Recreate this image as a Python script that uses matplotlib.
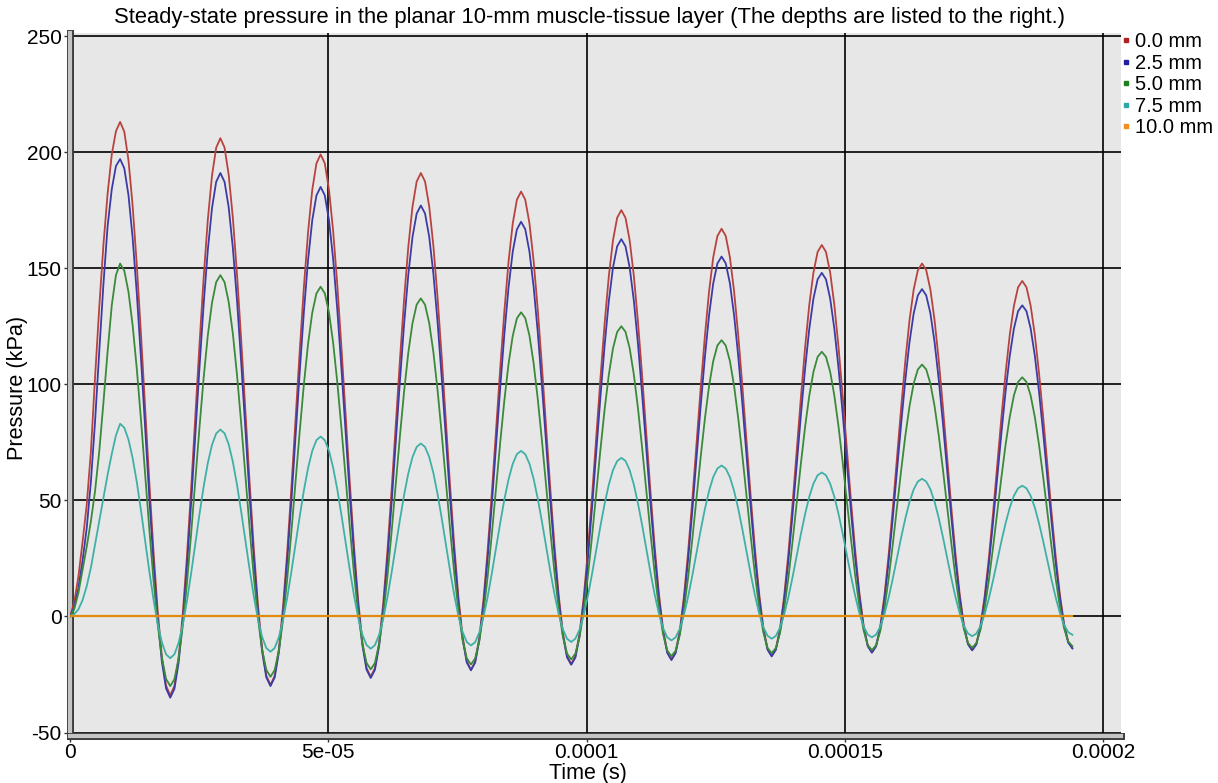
import numpy as np
import matplotlib
matplotlib.use("Agg")
import matplotlib.pyplot as plt
import matplotlib.patheffects as pe
from matplotlib.lines import Line2D
from matplotlib.ticker import MultipleLocator

plt.rcParams["font.family"] = ["Liberation Sans", "DejaVu Sans"]
plt.rcParams["axes.unicode_minus"] = False

# --- data --------------------------------------------------------------
depth_labels = ["0.0 mm", "2.5 mm", "5.0 mm", "7.5 mm", "10.0 mm"]
x_tick_values = [0, 5e-05, 0.0001, 0.00015, 0.0002]
x_tick_labels = ["0", "5e-05", "0.0001", "0.00015", "0.0002"]
y_tick_values = [-50, 0, 50, 100, 150, 200, 250]

sample_step_us = 0.8083   # sample spacing of the simulation output (microseconds)

# pressure in kPa at each sample, depth 0.0 mm
p_0mm = [
    0, 6, 17, 32, 48, 71, 103, 133, 160, 182, 199, 209, 213,
    208.8, 196.5, 176.8, 151.2, 121.5, 89.5, 57.5, 27.8, 2.2, -17.5, -29.8, -34,
    -29.9, -17.9, 1.1, 26, 54.9, 86, 117.1, 146, 170.9, 189.9, 201.9, 206,
    202.0, 190.2, 171.5, 147.1, 118.7, 88.2, 57.8, 29.4, 5.0, -13.7, -25.5, -29.5,
    -25.6, -14.2, 4.0, 27.6, 55.2, 84.8, 114.3, 141.9, 165.5, 183.7, 195.1, 199,
    195.2, 183.9, 166.1, 142.8, 115.6, 86.5, 57.4, 30.2, 6.9, -10.9, -22.2, -26,
    -22.3, -11.5, 5.8, 28.2, 54.4, 82.5, 110.6, 136.8, 159.2, 176.5, 187.3, 191,
    187.4, 176.7, 159.7, 137.5, 111.7, 84, 56.3, 30.5, 8.3, -8.7, -19.4, -23,
    -19.5, -9.2, 7.2, 28.5, 53.3, 80, 106.7, 131.5, 152.8, 169.2, 179.5, 183,
    179.5, 169.4, 153.2, 132.1, 107.6, 81.2, 54.9, 30.4, 9.3, -6.9, -17.0, -20.5,
    -17.2, -7.4, 8.1, 28.4, 52.0, 77.2, 102.5, 126.1, 146.4, 161.9, 171.7, 175,
    171.7, 162.0, 146.7, 126.6, 103.3, 78.2, 53.2, 29.9, 9.8, -5.5, -15.2, -18.5,
    -15.3, -6.1, 8.7, 27.9, 50.2, 74.2, 98.3, 120.6, 139.8, 154.6, 163.8, 167,
    163.9, 154.7, 140.1, 121, 98.8, 75, 51.2, 29, 9.9, -4.7, -13.9, -17,
    -14.0, -5.1, 8.9, 27.2, 48.6, 71.5, 94.4, 115.8, 134.1, 148.1, 157.0, 160,
    157.0, 148.2, 134.3, 116.1, 95.0, 72.2, 49.5, 28.4, 10.2, -3.7, -12.5, -15.5,
    -12.6, -4.3, 9.0, 26.4, 46.6, 68.2, 89.9, 110.1, 127.5, 140.8, 149.1, 152,
    149.2, 140.8, 127.6, 110.4, 90.3, 68.8, 47.2, 27.1, 9.9, -3.3, -11.7, -14.5,
    -11.8, -3.8, 8.8, 25.2, 44.4, 65, 85.6, 104.8, 121.2, 133.8, 141.8, 144.5,
    141.8, 133.9, 121.4, 105.0, 85.9, 65.4, 45.0, 25.9, 9.5, -3.0, -10.9, -13.6,
]

# depth 2.5 mm
p_2_5mm = [
    0, 4, 12, 24, 38, 58, 84, 114, 143, 168, 184, 194, 197,
    193.0, 181.5, 163.0, 139, 111.0, 81, 51.0, 23, -1.0, -19.5, -31.0, -35,
    -31.2, -19.9, -1.9, 21.5, 48.8, 78, 107.2, 134.5, 157.9, 175.9, 187.2, 191,
    187.2, 176.2, 158.6, 135.8, 109.1, 80.5, 51.9, 25.2, 2.4, -15.2, -26.2, -30,
    -26.3, -15.6, 1.5, 23.8, 49.7, 77.5, 105.3, 131.2, 153.5, 170.6, 181.3, 185,
    181.4, 170.8, 154.0, 132.1, 106.6, 79.2, 51.9, 26.4, 4.5, -12.3, -22.9, -26.5,
    -23.0, -12.9, 3.3, 24.4, 48.9, 75.2, 101.6, 126.1, 147.2, 163.4, 173.5, 177,
    173.6, 163.6, 147.7, 127.0, 102.8, 76.9, 51.0, 26.8, 6.1, -9.8, -19.8, -23.2,
    -19.9, -10.3, 5.1, 25.1, 48.4, 73.4, 98.4, 121.7, 141.7, 157.1, 166.7, 170,
    166.8, 157.2, 142.1, 122.3, 99.3, 74.6, 49.9, 26.9, 7.1, -8.0, -17.6, -20.8,
    -17.7, -8.5, 6.0, 25.0, 47.1, 70.8, 94.6, 116.7, 135.7, 150.2, 159.4, 162.5,
    159.4, 150.3, 136.0, 117.2, 95.3, 71.8, 48.4, 26.5, 7.7, -6.6, -15.7, -18.8,
    -15.8, -7.2, 6.6, 24.6, 45.6, 68.1, 90.6, 111.5, 129.6, 143.4, 152.0, 155,
    152.1, 143.5, 129.8, 112.0, 91.2, 68.9, 46.6, 25.8, 8.0, -5.7, -14.3, -17.2,
    -14.4, -6.1, 7.0, 24.1, 44.0, 65.4, 86.8, 106.7, 123.8, 136.9, 145.2, 148,
    145.2, 137.0, 124.0, 107.1, 87.4, 66.2, 45.0, 25.3, 8.4, -4.6, -12.8, -15.6,
    -12.9, -5.1, 7.3, 23.6, 42.4, 62.7, 83.0, 101.8, 118.1, 130.5, 138.3, 141,
    138.3, 130.6, 118.2, 102.1, 83.3, 63.2, 43.1, 24.3, 8.2, -4.2, -12.0, -14.6,
    -12.1, -4.6, 7.2, 22.5, 40.5, 59.7, 78.9, 96.8, 112.2, 124.0, 131.5, 134,
    131.5, 124.1, 112.4, 97.0, 79.2, 60.1, 41.0, 23.2, 7.8, -3.9, -11.3, -13.8,
]

# depth 5.0 mm
p_5mm = [
    0, 3, 10, 20, 30, 41, 54, 71, 92, 114, 134, 147, 152,
    148.9, 139.8, 125.4, 106.5, 84.6, 61, 37.4, 15.5, -3.4, -17.8, -26.9, -30,
    -27.0, -18.1, -4.1, 14.2, 35.6, 58.5, 81.4, 102.8, 121.1, 135.1, 144.0, 147,
    144.0, 135.4, 121.7, 103.8, 82.9, 60.5, 38.1, 17.2, -0.7, -14.4, -23.0, -26,
    -23.1, -14.8, -1.4, 16, 36.3, 58, 79.7, 100, 117.4, 130.8, 139.1, 142,
    139.2, 131.0, 117.9, 100.8, 80.9, 59.6, 38.3, 18.4, 1.3, -11.8, -20.0, -22.8,
    -20.1, -12.1, 0.6, 17.2, 36.4, 57.1, 77.8, 97.0, 113.6, 126.3, 134.3, 137,
    134.3, 126.4, 113.9, 97.6, 78.6, 58.2, 37.7, 18.7, 2.4, -10.1, -18.0, -20.7,
    -18.1, -10.5, 1.5, 17.2, 35.5, 55.2, 74.8, 93.1, 108.8, 120.8, 128.4, 131,
    128.5, 121.0, 109.1, 93.6, 75.6, 56.2, 36.9, 18.9, 3.4, -8.5, -16.0, -18.5,
    -16.0, -8.9, 2.5, 17.4, 34.7, 53.2, 71.8, 89.1, 104.0, 115.4, 122.5, 125,
    122.6, 115.5, 104.2, 89.5, 72.3, 54.0, 35.6, 18.4, 3.7, -7.6, -14.7, -17.1,
    -14.8, -8.0, 2.8, 16.9, 33.3, 51.0, 68.6, 85.0, 99.1, 109.9, 116.7, 119,
    116.7, 110.0, 99.3, 85.3, 69.0, 51.6, 34.2, 17.9, 3.9, -6.8, -13.5, -15.8,
    -13.6, -7.1, 3.2, 16.6, 32.3, 49.1, 65.9, 81.6, 95.0, 105.3, 111.8, 114,
    111.8, 105.4, 95.2, 81.9, 66.4, 49.8, 33.1, 17.6, 4.3, -5.9, -12.3, -14.5,
    -12.4, -6.3, 3.5, 16.2, 31.1, 47.0, 62.9, 77.8, 90.5, 100.3, 106.4, 108.5,
    106.4, 100.3, 90.6, 78.0, 63.3, 47.5, 31.7, 17.0, 4.4, -5.3, -11.4, -13.5,
    -11.5, -5.7, 3.6, 15.6, 29.7, 44.8, 59.8, 73.9, 85.9, 95.2, 101.0, 103,
    101.0, 95.2, 86.0, 74.0, 60.1, 45.1, 30.1, 16.2, 4.2, -5.0, -10.8, -12.8,
]

# depth 7.5 mm
p_7_5mm = [
    0, 1, 3, 7, 13, 21, 31, 41, 51, 61, 70, 78, 83,
    81.3, 76.2, 68.2, 57.8, 45.6, 32.5, 19.4, 7.2, -3.2, -11.2, -16.3, -18,
    -16.3, -11.4, -3.6, 6.6, 18.5, 31.2, 44.0, 55.9, 66.1, 73.9, 78.8, 80.5,
    78.9, 74.1, 66.5, 56.6, 45.0, 32.6, 20.3, 8.7, -1.2, -8.8, -13.6, -15.2,
    -13.6, -9.0, -1.6, 8.0, 19.2, 31.2, 43.1, 54.3, 63.9, 71.3, 75.9, 77.5,
    75.9, 71.4, 64.1, 54.7, 43.6, 31.8, 20.0, 9.0, -0.5, -7.8, -12.3, -13.9,
    -12.4, -8.0, -1.0, 8.2, 18.9, 30.3, 41.7, 52.4, 61.6, 68.6, 73.0, 74.5,
    73.0, 68.7, 61.8, 52.8, 42.3, 31.0, 19.7, 9.2, 0.2, -6.7, -11.0, -12.5,
    -11.1, -6.9, -0.2, 8.4, 18.6, 29.4, 40.2, 50.4, 59.0, 65.7, 69.9, 71.3,
    69.9, 65.8, 59.3, 50.7, 40.8, 30.2, 19.5, 9.6, 1.0, -5.5, -9.6, -11,
    -9.6, -5.7, 0.6, 8.8, 18.4, 28.6, 38.9, 48.5, 56.7, 63.0, 66.9, 68.3,
    67.0, 63.0, 56.8, 48.6, 39.2, 29.0, 18.8, 9.3, 1.2, -5.0, -9.0, -10.3,
    -9.0, -5.3, 0.7, 8.5, 17.6, 27.4, 37.1, 46.2, 54.0, 60.0, 63.7, 65,
    63.7, 60.0, 54.1, 46.4, 37.4, 27.7, 18.1, 9.1, 1.3, -4.6, -8.3, -9.6,
    -8.4, -4.8, 0.9, 8.3, 16.9, 26.2, 35.5, 44.1, 51.5, 57.2, 60.8, 62,
    60.8, 57.2, 51.6, 44.2, 35.7, 26.5, 17.3, 8.8, 1.4, -4.2, -7.8, -9,
    -7.8, -4.4, 1.0, 8.1, 16.3, 25.2, 34.0, 42.2, 49.3, 54.7, 58.1, 59.3,
    58.1, 54.8, 49.4, 42.4, 34.2, 25.4, 16.6, 8.4, 1.4, -4.0, -7.3, -8.5,
    -7.4, -4.2, 1.0, 7.7, 15.5, 23.9, 32.3, 40.1, 46.8, 52.0, 55.2, 56.3,
    55.2, 52.0, 46.9, 40.2, 32.5, 24.2, 15.9, 8.2, 1.5, -3.6, -6.8, -7.9,
]

# depth 10.0 mm (stays at zero)
p_10mm = [0.0] * len(p_0mm)

series = [p_0mm, p_2_5mm, p_5mm, p_7_5mm, p_10mm]
line_colors = ["#b8433e", "#3b3ba8", "#3a8a3a", "#3fb0a6", "#e08a10"]
marker_colors = ["#b02020", "#2020a0", "#208020", "#30a8a8", "#f09020"]

# --- figure ----------------------------------------------------------------
W, H = 1218, 783
fig = plt.figure(figsize=(W / 100, H / 100), dpi=100)
ax = fig.add_axes([70 / W, 1 - 736 / H, (1121 - 70) / W, (736 - 33) / H])
ax.set_facecolor("#e7e7e7")

time_s = np.arange(len(p_0mm)) * sample_step_us * 1e-6
for values, color, label in zip(series, line_colors, depth_labels):
    lw = 1.6 if label == "10.0 mm" else 1.3
    ax.plot(time_s, values, color=color, lw=lw, label=label, zorder=3)

ax.set_xlim(0, 2.034e-4)
ax.set_ylim(-51.5, 251.3)

ax.set_xticks(x_tick_values)
ax.set_xticklabels(x_tick_labels)
ax.xaxis.set_minor_locator(MultipleLocator(2.5e-5))
ax.set_yticks(y_tick_values)
ax.yaxis.set_minor_locator(MultipleLocator(10))
ax.tick_params(which="major", length=4, width=1, labelsize=15, color="#333333", pad=2)
ax.tick_params(axis="x", which="major", pad=1)
ax.tick_params(which="minor", length=2.5, width=0.8, color="#555555")

ax.grid(True, which="major", color="black", lw=1.2)
ax.set_axisbelow(True)

# grey bar style axis lines on left and bottom
for side in ["left", "bottom"]:
    sp = ax.spines[side]
    sp.set_color("#c4c4c4")
    sp.set_linewidth(3)
    sp.set_path_effects([pe.Stroke(linewidth=5, foreground="#3a3a3a"), pe.Normal()])
ax.spines["top"].set_visible(False)
ax.spines["right"].set_visible(False)

fig.text(590 / W, 1 - 17 / H,
         "Steady-state pressure in the planar 10-mm muscle-tissue layer (The depths are listed to the right.)",
         ha="center", va="center", fontsize=15.8)
fig.text(588 / W, 1 - 774 / H, "Time (s)", ha="center", va="center", fontsize=15.5)
fig.text(18 / W, 1 - 388 / H, "Pressure (kPa)", ha="center", va="center",
         rotation=90, fontsize=15.6)

handles = [Line2D([], [], marker="s", ms=3.5, ls="none", color=c) for c in marker_colors]
fig.legend(handles, depth_labels, loc="upper left", bbox_to_anchor=(1121 / W, 1 - 32 / H),
           frameon=False, fontsize=14.5, handlelength=0.5, handletextpad=0.2,
           labelspacing=0.13, borderpad=0, borderaxespad=0)

plt.savefig("out.png", dpi=100)
